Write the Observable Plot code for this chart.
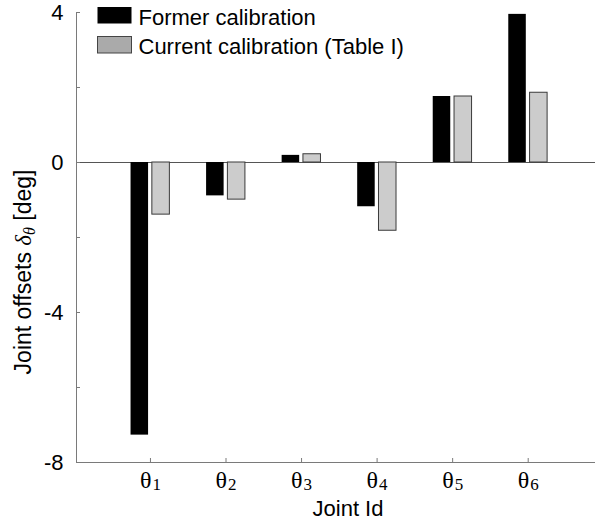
<!DOCTYPE html>
<html>
<head>
<meta charset="utf-8">
<script src="https://cdn.jsdelivr.net/npm/d3@7"></script>
<script src="https://cdn.jsdelivr.net/npm/@observablehq/plot@0.6"></script>
<style>
  html, body { margin: 0; padding: 0; background: #fff; }
  #chart { position: relative; width: 595px; height: 520px; }
</style>
</head>
<body>
<div id="chart"></div>
<script>
// ---- data ----
const jointIds = [1, 2, 3, 4, 5, 6];
const jointLabels = ["θ₁", "θ₂", "θ₃", "θ₄", "θ₅", "θ₆"];
const formerOffsets = [-7.27, -0.89, 0.19, -1.18, 1.76, 3.95];
const currentOffsets = [-1.39, -0.99, 0.22, -1.82, 1.76, 1.86];
const seriesNames = ["Former calibration", "Current calibration (Table I)"];
const yTicks = [-8, -6, -4, -2, 0, 2, 4];
const yTickLabels = [-8, -4, 0, 4];
const xTitle = "Joint Id";
const xDomain = [0.021, 6.891];

// ---- tables ----
const formerRows = jointIds.map((j, i) => ({joint: j, value: formerOffsets[i]}));
const currentRows = jointIds.map((j, i) => ({joint: j, value: currentOffsets[i]}));

const axisColor = "#7a7a7a";
const sans = "Liberation Sans, Arial, Helvetica, sans-serif";
const serif = "Liberation Serif, DejaVu Serif, serif";
const W = 595, H = 520, ML = 76, MR = 0, MT = 12, MB = 58;

const chart = Plot.plot({
  width: W,
  height: H,
  marginLeft: ML,
  marginRight: MR,
  marginTop: MT,
  marginBottom: MB,
  x: {type: "linear", domain: xDomain},
  y: {domain: [yTicks[0], yTicks[yTicks.length - 1]]},
  style: {fontFamily: sans, fontSize: "22px", background: "#fff", color: "#000"},
  marks: [
    Plot.ruleY([0], {stroke: "#555", strokeWidth: 1}),
    Plot.rectY(formerRows, {
      x1: d => d.joint - 0.257, x2: d => d.joint - 0.025,
      y1: 0, y2: "value", fill: "#000000"
    }),
    Plot.rectY(currentRows, {
      x1: d => d.joint + 0.025, x2: d => d.joint + 0.257,
      y1: 0, y2: "value", fill: "#cccccc", stroke: "#3a3a3a", strokeWidth: 1
    }),
    // axis lines
    Plot.ruleX([xDomain[0]], {stroke: axisColor}),
    Plot.ruleY([yTicks[0]], {stroke: axisColor}),
    // inward ticks
    Plot.ruleY(yTicks, {stroke: axisColor, insetRight: W - ML - MR - 4}),
    Plot.ruleX(jointIds, {stroke: axisColor, insetTop: H - MT - MB - 4}),
    // tick labels
    Plot.axisY({ticks: yTickLabels, tickSize: 0, tickPadding: 13, fontSize: 22,
      tickFormat: d => String(d), label: null}),
    Plot.axisX({
      ticks: jointIds, tickSize: 0, tickPadding: 8,
      tickFormat: d => jointLabels[jointIds.indexOf(d)],
      fontFamily: serif, fontSize: 24, label: null
    })
  ]
});

document.getElementById("chart").appendChild(chart);

const svg = d3.select(chart);

// render subscripts of joint labels as shifted tspans
const subMap = {"₀":"0","₁":"1","₂":"2","₃":"3","₄":"4","₅":"5","₆":"6","₇":"7","₈":"8","₉":"9"};
svg.selectAll('g[aria-label="x-axis tick label"] text').each(function () {
  const t = this.textContent;
  const base = t.slice(0, 1);
  const sub = Array.from(t.slice(1)).map(c => subMap[c] ?? c).join("");
  const el = d3.select(this);
  el.text(null).attr("font-family", serif).attr("font-size", 24);
  el.append("tspan").text(base);
  el.append("tspan").attr("font-size", 17).attr("dx", 1).attr("dy", 2).text(sub);
});

// x title
svg.append("text")
  .attr("x", 348).attr("y", 516)
  .attr("text-anchor", "middle")
  .attr("font-family", sans).attr("font-size", 22)
  .attr("fill", "#000")
  .text(xTitle);

// y title with math symbols
const yt = svg.append("text")
  .attr("transform", "translate(31,272) rotate(-90)")
  .attr("text-anchor", "middle")
  .attr("font-family", sans).attr("font-size", 23)
  .attr("fill", "#000");
yt.append("tspan").text("Joint offsets ");
yt.append("tspan").attr("font-family", serif).attr("font-style", "italic").text("δ");
yt.append("tspan").attr("font-family", serif).attr("font-style", "italic")
  .attr("font-size", 16).attr("dy", 4).text("θ");
yt.append("tspan").attr("dy", -4).text(" [deg]");

// legend (inside plot area)
const legendFills = ["#000000", "#aaaaaa"];
const legendStrokes = ["none", "#444444"];
const lg = svg.append("g");
seriesNames.forEach((name, i) => {
  lg.append("rect")
    .attr("x", 97.5).attr("y", 7 + i * 29.5)
    .attr("width", 34).attr("height", 16.5)
    .attr("fill", legendFills[i]).attr("stroke", legendStrokes[i]);
  lg.append("text")
    .attr("x", 138.5).attr("y", 25 + i * 28.7)
    .attr("text-anchor", "start")
    .attr("font-family", sans).attr("font-size", 22)
    .attr("fill", "#000")
    .text(name);
});
</script>
</body>
</html>
